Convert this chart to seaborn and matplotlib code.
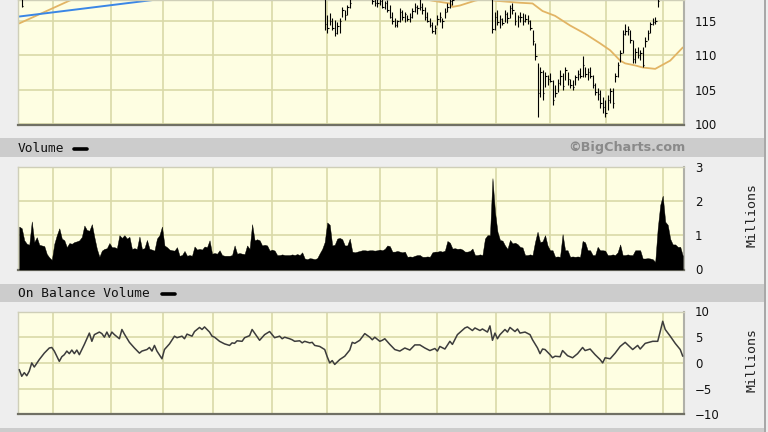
import matplotlib
matplotlib.use("Agg")
import matplotlib.pyplot as plt
import seaborn as sns
import numpy as np
from matplotlib.lines import Line2D
from matplotlib.patches import Rectangle

sns.set_theme(style="white")
plt.rcParams['font.family'] = ['DejaVu Sans']

# ---------------- data ----------------
n_days = 266
month_grid_days = [13.5, 36.5, 57.5, 77.5, 101, 123, 144, 167, 190.5, 212, 234.5, 257]

price_ticks = [100, 105, 110, 115]
volume_ticks = [0, 1, 2, 3]
obv_ticks = [-10, -5, 0, 5, 10]

# OHLC bars (only days whose bars reach into the visible window)
bar_days = [1] + list(range(122, 133)) + list(range(141, 174)) + list(range(189, 256))
bar_high = [118.6,
            119.0, 115.8, 116.1, 115.4, 115.1, 114.8, 115.4, 117.0, 116.6, 117.3, 118.3,
            118.5, 118.3, 118.2, 118.4, 118.2, 117.8, 118.0, 117.3, 116.3, 115.4, 115.1,
            116.8, 116.6, 116.3, 115.8, 116.1, 116.8, 117.6, 117.3, 118.2, 117.6, 117.0,
            116.3, 115.4, 114.8, 114.4, 115.8, 116.3, 115.4, 116.8, 117.6, 118.2, 118.5,
            119.5, 116.3, 116.6, 115.8, 115.4, 116.6, 116.3, 117.3, 117.6, 116.3, 115.8,
            116.3, 116.1, 116.0, 115.8, 115.1, 113.6, 111.8, 108.8, 108.2, 107.8, 107.5,
            107.1, 107.4, 106.4, 105.7, 106.6, 107.8, 107.4, 108.2, 107.5, 106.6, 106.4,
            107.1, 107.8, 108.1, 109.8, 108.2, 108.1, 108.2, 107.1, 105.9, 105.2, 104.9,
            103.9, 103.5, 104.2, 105.2, 105.2, 107.4, 109.0, 110.7, 113.6, 114.5, 114.2,
            113.6, 112.2, 111.0, 111.2, 110.7, 111.2, 112.6, 113.6, 114.8, 115.4, 115.5,
            118.5]
bar_low = [117.0,
           113.7, 113.2, 114.4, 113.6, 112.8, 113.1, 113.2, 115.5, 115.1, 115.8, 116.8,
           117.4, 117.2, 117.0, 117.3, 116.8, 116.7, 116.3, 115.4, 114.5, 114.1, 114.1,
           114.8, 115.1, 114.8, 114.9, 114.8, 115.4, 116.3, 116.0, 116.6, 116.0, 115.1,
           114.8, 114.1, 113.2, 113.0, 114.4, 114.8, 113.9, 115.4, 116.3, 116.8, 117.3,
           113.2, 113.6, 114.4, 113.9, 114.4, 114.8, 114.7, 115.4, 116.0, 114.4, 114.1,
           114.8, 114.4, 114.8, 114.5, 113.6, 111.5, 109.3, 101.0, 103.9, 103.5, 105.3,
           105.7, 106.1, 102.7, 103.9, 104.6, 105.7, 104.9, 106.4, 105.7, 105.2, 104.9,
           105.7, 106.4, 106.7, 106.8, 106.8, 106.4, 106.7, 105.2, 104.2, 103.5, 102.3,
           101.6, 101.0, 102.0, 103.0, 102.3, 106.1, 106.8, 109.0, 110.3, 112.9, 112.9,
           111.8, 108.9, 108.9, 109.6, 109.3, 108.3, 111.2, 112.2, 113.2, 114.4, 114.5,
           117.0]
bar_close = [117.2,
             114.5, 114.0, 115.0, 114.0, 113.2, 114.2, 115.0, 116.5, 115.8, 117.0, 117.5,
             117.8, 117.6, 117.5, 117.8, 117.0, 117.5, 116.5, 115.6, 115.0, 114.3, 114.9,
             116.2, 115.5, 116.0, 115.2, 115.6, 116.4, 117.0, 116.8, 117.0, 116.5, 115.5,
             115.0, 114.4, 113.5, 114.0, 115.2, 115.5, 115.0, 116.3, 117.0, 117.8, 118.0,
             113.8, 115.5, 114.8, 115.2, 114.6, 116.0, 115.4, 116.8, 116.5, 114.9, 115.5,
             115.6, 115.0, 115.3, 115.0, 114.0, 112.0, 109.8, 104.5, 107.5, 104.5, 107.0,
             106.5, 106.3, 103.5, 104.5, 106.0, 107.0, 105.5, 107.8, 106.5, 105.6, 105.3,
             106.8, 107.3, 107.0, 108.5, 107.2, 107.5, 106.9, 105.6, 104.6, 104.3, 103.0,
             102.4, 101.6, 103.5, 104.8, 103.0, 107.0, 108.5, 110.3, 113.0, 113.5, 113.8,
             112.2, 109.5, 110.5, 110.0, 110.3, 108.6, 112.0, 113.2, 114.5, 114.8, 115.0,
             117.8]

# 50-day moving average (tan) and comparison line (blue)
ma_days = [0, 20, 40, 100, 150, 165, 172, 173, 176, 182, 186, 190, 200, 205, 209,
           214, 220, 226, 232, 236, 240, 242, 246, 249, 254, 260, 265]
ma_vals = [114.6, 117.9, 120.5, 121.0, 119.0, 117.9, 117.5, 117.0, 117.2, 117.9, 118.2,
           117.9, 117.6, 117.5, 116.4, 115.7, 114.3, 113.1, 111.7, 110.7, 109.2, 108.8,
           108.5, 108.2, 108.0, 109.2, 111.1]
blue_days = [0, 60]
blue_vals = [115.6, 118.3]

# daily volume, millions
volume = [1.25, 1.2, 0.85, 0.75, 0.72, 1.4, 0.8, 0.94, 0.72, 0.7,
          0.68, 0.45, 0.35, 0.28, 0.75, 1.0, 1.2, 0.9, 0.85, 0.65,
          0.77, 0.75, 0.8, 0.82, 0.85, 0.95, 1.28, 1.15, 1.13, 1.32,
          0.94, 0.6, 0.37, 0.55, 0.6, 0.62, 0.77, 0.65, 0.65, 0.62,
          1.0, 0.92, 1.0, 0.9, 0.95, 0.6, 0.62, 0.6, 0.96, 0.6,
          0.62, 0.86, 0.6, 0.58, 0.55, 0.9, 1.0, 1.25, 0.7, 0.65,
          0.58, 0.56, 0.55, 0.65, 0.4, 0.42, 0.54, 0.4, 0.42, 0.4,
          0.67, 0.58, 0.6, 0.58, 0.67, 0.65, 0.85, 0.46, 0.48, 0.46,
          0.56, 0.42, 0.4, 0.4, 0.4, 0.42, 0.7, 0.46, 0.48, 0.46,
          0.45, 0.7, 0.6, 1.32, 0.85, 0.88, 0.85, 0.7, 0.72, 0.7,
          0.55, 0.58, 0.55, 0.42, 0.42, 0.44, 0.42, 0.42, 0.42, 0.44,
          0.42, 0.45, 0.42, 0.5, 0.32, 0.3, 0.33, 0.32, 0.3, 0.33,
          0.47, 0.6, 0.8, 1.37, 1.3, 0.7, 0.72, 0.9, 0.92, 0.88,
          0.7, 0.7, 0.9, 0.52, 0.5, 0.52, 0.54, 0.56, 0.56, 0.55,
          0.56, 0.56, 0.55, 0.56, 0.58, 0.56, 0.6, 0.7, 0.68, 0.52,
          0.52, 0.54, 0.52, 0.5, 0.52, 0.37, 0.38, 0.37, 0.4, 0.42,
          0.42, 0.37, 0.37, 0.38, 0.37, 0.5, 0.52, 0.52, 0.54, 0.52,
          0.55, 0.83, 0.78, 0.61, 0.62, 0.6, 0.61, 0.58, 0.52, 0.52,
          0.54, 0.61, 0.42, 0.42, 0.44, 0.42, 0.9, 1.0, 1.0, 2.66,
          1.68, 1.1, 0.86, 0.84, 0.7, 0.6, 0.86, 0.76, 0.78, 0.74,
          0.66, 0.64, 0.42, 0.42, 0.44, 0.42, 0.8, 1.1, 0.8, 0.82,
          1.0, 0.7, 0.56, 0.56, 0.37, 0.38, 0.37, 1.03, 0.56, 0.56,
          0.37, 0.38, 0.37, 0.38, 0.37, 0.83, 0.79, 0.56, 0.56, 0.42,
          0.42, 0.66, 0.56, 0.56, 0.55, 0.42, 0.42, 0.44, 0.42, 0.5,
          0.73, 0.42, 0.42, 0.44, 0.42, 0.42, 0.56, 0.56, 0.56, 0.32,
          0.32, 0.33, 0.32, 0.3, 0.22, 1.2, 1.88, 2.15, 1.39, 1.3,
          0.89, 0.73, 0.73, 0.66, 0.66, 0.4]

# On Balance Volume, millions
obv_days = [0, 1, 2, 3, 4, 5, 6, 8, 10, 12, 13, 14, 16, 17, 18, 19, 20, 21, 22, 23, 24, 25,
            26, 28, 29, 30, 32, 33, 34, 35, 36, 37, 38, 40, 41, 42, 44, 46, 48, 49, 51, 52,
            53, 54, 55, 57, 58, 60, 62, 63, 65, 66, 67, 69, 70, 72, 73, 74, 76, 77, 78, 80,
            82, 84, 85, 86, 87, 89, 90, 92, 93, 94, 96, 98, 100, 101, 102, 104, 105, 106,
            108, 109, 110, 112, 113, 114, 116, 117, 118, 120, 122, 123, 124, 125, 126, 128,
            130, 132, 133, 134, 136, 138, 140, 141, 142, 144, 145, 146, 148, 150, 152, 154,
            156, 158, 160, 162, 164, 166, 167, 168, 170, 172, 173, 175, 178, 179, 181, 182,
            184, 185, 187, 188, 189, 190, 191, 192, 194, 195, 196, 198, 199, 200, 202, 204,
            205, 207, 208, 209, 210, 212, 213, 214, 216, 217, 219, 221, 223, 225, 226, 228,
            230, 232, 233, 234, 236, 238, 240, 242, 245, 247, 248, 250, 253, 255, 256, 257,
            258, 260, 262, 264, 265]
obv_vals = [-1.3, -2.6, -1.9, -2.5, -1.6, 0.0, -0.8, 0.65, 1.9, 2.9, 3.0, 2.3, 0.3, 1.2, 1.6,
            2.3, 1.8, 2.5, 1.8, 2.5, 1.6, 2.6, 3.6, 5.8, 4.2, 5.5, 6.0, 5.7, 5.0, 6.0, 5.0,
            6.0, 5.5, 4.7, 6.5, 5.6, 4.0, 2.9, 1.9, 2.3, 2.6, 3.0, 2.3, 3.4, 2.3, 0.8, 2.6,
            3.7, 5.2, 4.9, 5.2, 4.7, 5.6, 5.2, 6.1, 6.9, 6.5, 7.0, 6.0, 5.2, 5.0, 4.2, 3.7,
            3.4, 3.9, 3.8, 4.3, 4.2, 4.9, 5.3, 6.5, 5.8, 4.4, 5.5, 6.1, 5.5, 4.9, 5.2, 4.7,
            5.0, 4.7, 4.5, 4.2, 4.3, 3.9, 4.2, 3.9, 4.0, 3.4, 3.2, 2.6, 1.2, 0.0, 0.45, -0.3,
            0.65, 1.3, 2.5, 4.0, 3.8, 4.4, 5.7, 5.0, 4.5, 5.0, 4.2, 4.4, 4.7, 3.6, 2.6, 2.3,
            2.9, 2.5, 3.5, 3.5, 2.9, 2.4, 2.8, 2.3, 3.2, 2.7, 4.2, 3.6, 5.5, 6.8, 7.0, 6.3,
            6.8, 6.3, 6.6, 6.0, 7.2, 4.4, 5.8, 4.7, 5.5, 6.5, 6.0, 6.9, 6.1, 6.6, 5.8, 6.0,
            5.5, 4.5, 2.9, 1.8, 2.7, 2.6, 1.6, 1.0, 1.3, 1.2, 2.4, 1.4, 1.0, 1.8, 3.0, 2.4,
            2.7, 1.6, 0.65, 0.0, 1.0, 0.8, 1.9, 3.2, 4.0, 2.6, 3.4, 2.7, 3.8, 4.2, 4.2, 6.1,
            8.1, 6.5, 5.2, 3.8, 2.6, 1.3]

# ---------------- styling ----------------
W, H = 768, 432
BG = '#eeeeee'
STRIP = '#cccccc'
PLOT_BG = '#fefee2'
GRID = '#d9d9a8'
MONO = 'DejaVu Sans Mono'

fig = plt.figure(figsize=(W / 100, H / 100), dpi=100, facecolor=BG)

def fx(px):
    return px / W

def fy(py):
    return 1 - py / H

def add_axes(top, bottom, left=18, right=684):
    return fig.add_axes([fx(left), fy(bottom), fx(right - left), (bottom - top) / H])

# strips
fig.add_artist(Rectangle((0, fy(157)), fx(765), 19 / H, transform=fig.transFigure,
                         facecolor=STRIP, edgecolor='none', zorder=0))
fig.add_artist(Rectangle((0, fy(302)), fx(765), 18 / H, transform=fig.transFigure,
                         facecolor=STRIP, edgecolor='none', zorder=0))
fig.add_artist(Rectangle((0, 0), fx(765), 4 / H, transform=fig.transFigure,
                         facecolor=STRIP, edgecolor='none', zorder=0))
fig.add_artist(Rectangle((fx(764), 0), fx(1.5), 1, transform=fig.transFigure,
                         facecolor='#a8a8a8', edgecolor='none', zorder=0))

def style_axis(ax, ylim, yticks, ylabels):
    ax.set_facecolor(PLOT_BG)
    ax.set_xlim(-0.5, n_days - 0.5)
    ax.set_ylim(*ylim)
    ax.set_xticks(month_grid_days)
    ax.set_xticklabels([])
    ax.set_yticks(yticks)
    ax.set_yticklabels(ylabels)
    ax.yaxis.tick_right()
    ax.tick_params(axis='both', length=0)
    ax.tick_params(axis='y', pad=8, labelsize=8.5, labelcolor='#111111')
    ax.set_axisbelow(True)
    ax.grid(True, color=GRID, lw=1.2)
    ax.set_xlabel('')
    ax.set_ylabel('')
    for s in ['top', 'left']:
        ax.spines[s].set_color('#cfcfb8')
        ax.spines[s].set_linewidth(1.0)
    ax.spines['right'].set_color('#b0b0a8')
    ax.spines['right'].set_linewidth(1.5)
    ax.spines['bottom'].set_color('#707064')
    ax.spines['bottom'].set_linewidth(1.6)

# ---- price panel ----
axp = add_axes(0, 125)
bd = np.array(bar_days)
axp.vlines(bd, bar_low, bar_high, color='black', lw=0.8, zorder=3)
axp.hlines(bar_close, bd, bd + 0.6, color='black', lw=0.8, zorder=3)
sns.lineplot(x=ma_days, y=ma_vals, ax=axp, color='#e2b464', lw=1.3, zorder=2)
sns.lineplot(x=blue_days, y=blue_vals, ax=axp, color='#3a86e6', lw=1.4, zorder=2)
style_axis(axp, (99.85, 118.0), price_ticks, [str(t) for t in price_ticks])

# ---- volume panel ----
axv = add_axes(166.5, 269.5)
days = np.arange(n_days)
axv.fill_between(days, volume, color='black', lw=0.3, edgecolor='black', zorder=3)
style_axis(axv, (0, 3), volume_ticks, [str(t) for t in volume_ticks])

# ---- OBV panel ----
axo = add_axes(311.5, 414.3)
sns.lineplot(x=obv_days, y=obv_vals, ax=axo, color='#3c3c3c', lw=1.1, zorder=3)
style_axis(axo, (-10, 10), obv_ticks, ['\u221210', '\u22125', '0', '5', '10'])

# ---- texts ----
fig.text(fx(18), fy(148), 'Volume', family=MONO, fontsize=9.3, color='#111111',
         ha='left', va='center')
fig.add_artist(Line2D([fx(74), fx(87)], [fy(148.5), fy(148.5)], transform=fig.transFigure,
                      color='black', lw=2.6, solid_capstyle='round'))
fig.text(fx(686), fy(147.5), '\u00a9BigCharts.com', fontsize=9.2, fontweight='bold',
         color='#8a8a8a', ha='right', va='center')
fig.text(fx(18), fy(293.5), 'On Balance Volume', family=MONO, fontsize=9.3, color='#111111',
         ha='left', va='center')
fig.add_artist(Line2D([fx(162), fx(175)], [fy(294), fy(294)], transform=fig.transFigure,
                      color='black', lw=2.6, solid_capstyle='round'))
fig.text(fx(752), fy(215), 'Millions', family=MONO, fontsize=9.5, color='#222222',
         rotation=90, ha='center', va='center')
fig.text(fx(752), fy(360), 'Millions', family=MONO, fontsize=9.5, color='#222222',
         rotation=90, ha='center', va='center')

fig.savefig('out.png', dpi=100, facecolor=BG)
